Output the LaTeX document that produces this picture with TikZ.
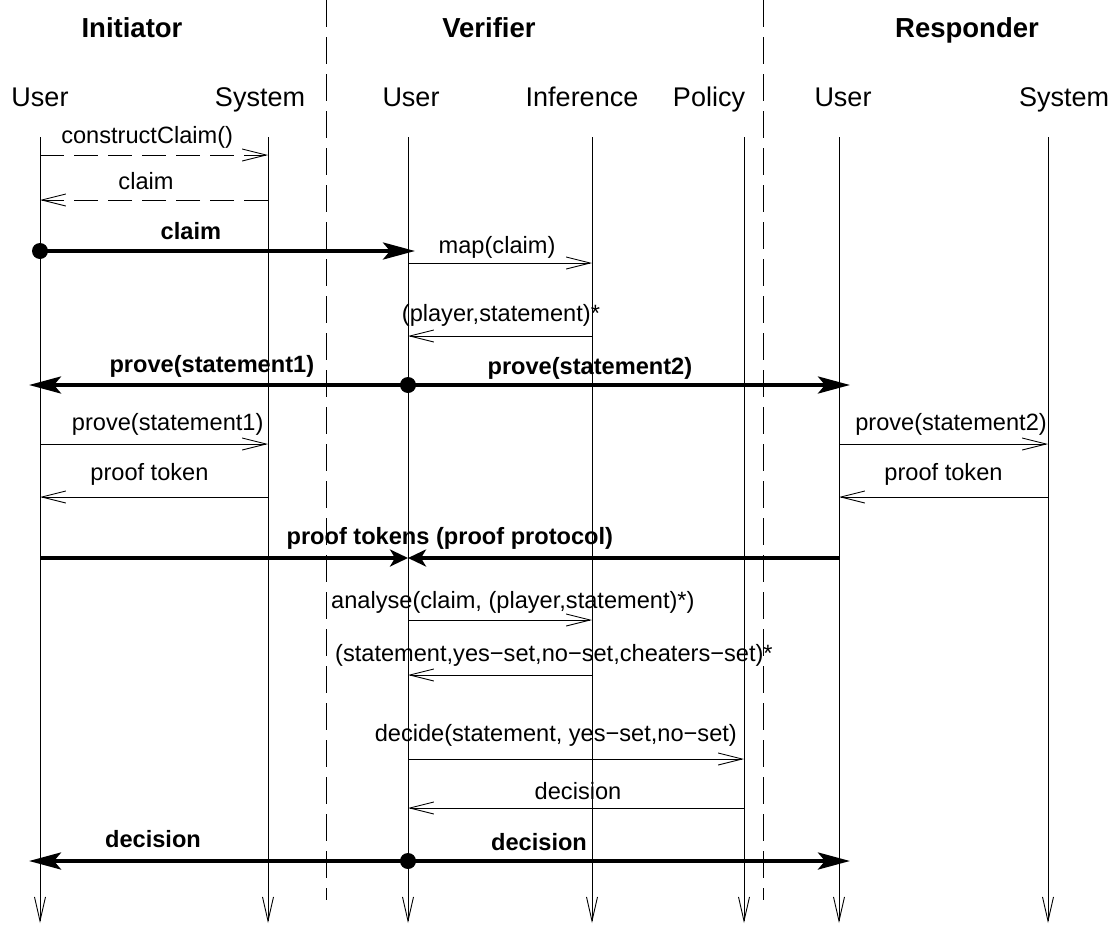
\documentclass[tikz,border=0pt]{standalone}
\usepackage{fontspec}
\setmainfont{Liberation Sans}
\usetikzlibrary{arrows.meta}

\newcommand{\msgfont}{\fontsize{23.6}{28}\selectfont}
\newcommand{\bmsgfont}{\fontsize{23.6}{28}\selectfont\bfseries}
\newcommand{\partfont}{\fontsize{27}{32}\selectfont}
\newcommand{\hdrfont}{\fontsize{27.5}{32}\selectfont\bfseries}

\tikzset{
  lifeline/.style={line width=0.9pt, -{Straight Barb[length=24pt,width=11pt]}},
  divider/.style={line width=0.9pt, dash pattern=on 27pt off 10pt},
  call/.style={line width=0.9pt, -{Straight Barb[length=24pt,width=12pt]}},
  reply/.style={call, dash pattern=on 24pt off 10pt},
  bigmsg/.style={line width=4pt, shorten >=-11pt, -{Stealth[length=32pt,width=17pt,inset=7pt]}},
  tokmsg/.style={line width=4pt, -{Stealth[length=18pt,width=17pt,inset=5pt]}},
  lbl/.style={font=\msgfont, anchor=base, inner sep=0pt},
  blbl/.style={font=\bmsgfont, anchor=base, inner sep=0pt},
  part/.style={font=\partfont, anchor=base, inner sep=0pt},
  hdr/.style={font=\hdrfont, anchor=base, inner sep=0pt},
}

\begin{document}
\begin{tikzpicture}[x=1pt, y=-1pt]
  \useasboundingbox (0,0) rectangle (1117,926);

  % lifelines (x positions)
  \coordinate (iu) at (40,0);
  \coordinate (is) at (268,0);
  \coordinate (vu) at (408,0);
  \coordinate (vi) at (592,0);
  \coordinate (vp) at (744,0);
  \coordinate (ru) at (839,0);
  \coordinate (rs) at (1048,0);
  \coordinate (top) at (0,137);
  \coordinate (bot) at (0,923);

  % separators between the parties
  \coordinate (d1) at (326,0);
  \coordinate (d2) at (763,0);
  \coordinate (dend) at (0,900);
  \draw[divider] (d1) -- (d1 |- dend);
  \draw[divider] (d2) -- (d2 |- dend);

  % parties
  \node[hdr] (hInit) at (132,37) {Initiator};
  \node[hdr] (hVer)  at (489,37) {Verifier};
  \node[hdr] (hResp) at (967,37) {Responder};

  \node[part] (pIU) at (40,106)   {User};
  \node[part] (pIS) at (260,106)  {System};
  \node[part] (pVU) at (411,106)  {User};
  \node[part] (pVI) at (582,106)  {Inference};
  \node[part] (pVP) at (709,106)  {Policy};
  \node[part] (pRU) at (843,106)  {User};
  \node[part] (pRS) at (1064,106) {System};

  \foreach \p in {iu,is,vu,vi,vp,ru,rs}
    \draw[lifeline] (\p |- top) -- (\p |- bot);

  % message rows
  \coordinate (r1) at (0,155);
  \coordinate (r2) at (0,200);
  \coordinate (r3) at (0,251);
  \coordinate (r4) at (0,263);
  \coordinate (r5) at (0,336);
  \coordinate (r6) at (0,385);
  \coordinate (r7) at (0,444);
  \coordinate (r8) at (0,497);
  \coordinate (r9) at (0,558);
  \coordinate (r10) at (0,620);
  \coordinate (r11) at (0,675);
  \coordinate (r12) at (0,759);
  \coordinate (r13) at (0,808);
  \coordinate (r14) at (0,861);

  % initiator builds the claim
  \draw[reply] (iu |- r1) -- node[lbl, pos=0.47, yshift=12pt] (mConstruct) {constructClaim()} (is |- r1);
  \draw[reply] (is |- r2) -- node[lbl, pos=0.535, yshift=11pt] (mClaimBack) {claim} (iu |- r2);
  \fill (iu |- r3) circle (8pt);
  \draw[bigmsg, shorten >=-7pt] (iu |- r3) -- node[blbl, pos=0.41, yshift=12pt] (mClaim) {claim} (vu |- r3);

  % verifier maps the claim
  \draw[call] (vu |- r4) -- node[lbl, pos=0.484, yshift=10pt] (mMap) {map(claim)} (vi |- r4);
  \draw[call] (vi |- r5) -- node[lbl, pos=0.495, yshift=15pt] (mPlayers) {(player,statement)*} (vu |- r5);

  % prove requests
  \fill (vu |- r6) circle (8pt);
  \draw[bigmsg] (vu |- r6) -- node[blbl, pos=0.533, yshift=13pt] (mProve1) {prove(statement1)} (iu |- r6);
  \draw[bigmsg] (vu |- r6) -- node[blbl, pos=0.422, yshift=11pt] (mProve2) {prove(statement2)} (ru |- r6);
  \draw[call] (iu |- r7) -- node[lbl, pos=0.56, yshift=14pt] (mProveI) {prove(statement1)} (is |- r7);
  \draw[call] (ru |- r7) -- node[lbl, pos=0.536, yshift=14pt] (mProveR) {prove(statement2)} (rs |- r7);
  \draw[call] (is |- r8) -- node[lbl, pos=0.52, yshift=17pt] (mTokI) {proof token} (iu |- r8);
  \draw[call] (rs |- r8) -- node[lbl, pos=0.50, yshift=17pt] (mTokR) {proof token} (ru |- r8);

  % tokens go back to the verifier
  \draw[tokmsg] (iu |- r9) -- (vu |- r9);
  \draw[tokmsg] (ru |- r9) -- node[blbl, pos=0.903, yshift=14pt] (mTokens) {proof tokens (proof protocol)} (vu |- r9);

  % analysis and decision
  \draw[call] (vu |- r10) -- node[lbl, pos=0.57, yshift=12pt] (mAnalyse) {analyse(claim, (player,statement)*)} (vi |- r10);
  \draw[call] (vi |- r11) -- node[lbl, pos=0.207, yshift=14pt] (mSets) {(statement,yes−set,no−set,cheaters−set)*} (vu |- r11);
  \draw[call] (vu |- r12) -- node[lbl, pos=0.44, yshift=18pt] (mDecide) {decide(statement, yes−set,no−set)} (vp |- r12);
  \draw[call] (vp |- r13) -- node[lbl, pos=0.494, yshift=9pt] (mDecision) {decision} (vu |- r13);

  \fill (vu |- r14) circle (8pt);
  \draw[bigmsg] (vu |- r14) -- node[blbl, pos=0.693, yshift=14pt] (mDecL) {decision} (iu |- r14);
  \draw[bigmsg] (vu |- r14) -- node[blbl, pos=0.304, yshift=11pt] (mDecR) {decision} (ru |- r14);
\end{tikzpicture}
\end{document}
